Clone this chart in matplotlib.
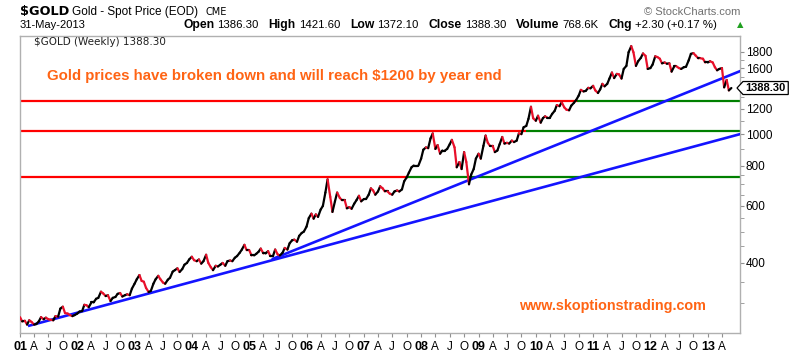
import numpy as np
import pandas as pd
import matplotlib
matplotlib.use("Agg")
import matplotlib.pyplot as plt
import matplotlib.dates as mdates
from matplotlib.collections import LineCollection
from matplotlib.patches import Polygon

# -----------------------------
# DATA (semi-monthly closes)
# -----------------------------
price_2001 = [272, 264, 265, 258, 266, 263, 258, 259, 264, 272, 268, 271,
              268, 267, 266, 274, 273, 289, 293, 280, 279, 276, 274, 276]
price_2002 = [279, 283, 284, 297, 296, 292, 302, 302, 310, 312, 326, 322,
              316, 318, 305, 312, 314, 321, 323, 315, 318, 320, 318, 333]
price_2003 = [345, 356, 367, 352, 350, 335, 325, 328, 345, 356, 365, 356,
              348, 345, 355, 360, 376, 380, 385, 375, 383, 395, 400, 410]
price_2004 = [418, 408, 405, 410, 398, 405, 424, 400, 388, 380, 392, 390,
              395, 400, 392, 405, 407, 405, 415, 420, 430, 440, 455, 438]
price_2005 = [438, 422, 422, 427, 433, 443, 428, 428, 435, 420, 420, 440,
              425, 422, 430, 445, 440, 460, 470, 472, 465, 485, 495, 500]
price_2006 = [518, 550, 568, 548, 565, 555, 585, 600, 660, 725, 640, 575,
              620, 660, 635, 625, 625, 590, 595, 588, 610, 625, 645, 620]
price_2007 = [630, 630, 650, 680, 670, 650, 665, 690, 680, 665, 665, 655,
              650, 665, 670, 665, 675, 715, 735, 760, 790, 800, 800, 800]
price_2008 = [840, 895, 910, 905, 970, 1005, 900, 925, 870, 890, 890, 900,
              930, 960, 910, 790, 820, 780, 880, 820, 700, 750, 780, 840]
price_2009 = [870, 840, 920, 990, 940, 920, 920, 880, 890, 930, 980, 935,
              940, 935, 955, 945, 955, 1005, 1000, 1050, 1060, 1115, 1215, 1120]
price_2010 = [1100, 1140, 1085, 1120, 1135, 1125, 1125, 1155, 1180, 1230, 1220, 1255,
              1210, 1190, 1185, 1225, 1250, 1275, 1315, 1370, 1355, 1360, 1390, 1385]
price_2011 = [1410, 1365, 1340, 1375, 1430, 1405, 1430, 1485, 1550, 1490, 1535, 1530,
              1485, 1590, 1625, 1790, 1870, 1790, 1625, 1680, 1720, 1775, 1745, 1590]
price_2012 = [1600, 1640, 1740, 1730, 1710, 1655, 1665, 1650, 1655, 1560, 1620, 1620,
              1600, 1590, 1610, 1615, 1690, 1770, 1780, 1750, 1715, 1715, 1710, 1665]
price_2013 = [1665, 1680, 1665, 1610, 1575, 1590, 1600, 1395, 1470, 1365, 1388.30]

closes = (price_2001 + price_2002 + price_2003 + price_2004 + price_2005 + price_2006
          + price_2007 + price_2008 + price_2009 + price_2010 + price_2011 + price_2012
          + price_2013)
dates = list(pd.date_range("2001-01-01", "2013-05-15", freq="SMS")) + [pd.Timestamp("2013-05-31")]
last_price = 1388.30

# horizontal support / resistance levels and where price broke through them
level_prices = [1265, 1020, 735]
level_break_dates = ["2010-09-20", "2009-11-01", "2007-10-01"]

# trend lines (start date/price, end date/price)
trend_lower_dates = ["2001-03-01", "2013-07-25"]
trend_lower_prices = [256, 1000]
trend_upper_dates = ["2005-06-01", "2013-07-25"]
trend_upper_prices = [412, 1565]

y_major = [400, 600, 800, 1000, 1200, 1600, 1800]
y_minor = [300, 350, 450, 500, 550, 650, 700, 750, 900, 1100, 1300, 1400, 1500, 1700]

quote_parts = [("Open", True), ("1386.30", False), ("High", True), ("1421.60", False),
               ("Low", True), ("1372.10", False), ("Close", True), ("1388.30", False),
               ("Volume", True), ("768.6K", False), ("Chg", True), ("+2.30 (+0.17 %)", False)]

X_START = pd.Timestamp("2001-01-01")
X_END = pd.Timestamp("2013-07-25")

ORANGE = "#ff6414"

# -----------------------------
# FIGURE
# -----------------------------
W, H = 790, 354
fig = plt.figure(figsize=(W / 100, H / 100), dpi=100)
fig.patch.set_facecolor("white")
ax = fig.add_axes([20 / W, 21 / H, 720 / W, 297 / H])

ax.set_yscale("log")
ax.set_ylim(243, 2010)
ax.set_xlim(X_START, X_END)

# horizontal levels: red before the break, green after
for lvl, brk in zip(level_prices, level_break_dates):
    brk = pd.Timestamp(brk)
    ax.plot([X_START, brk], [lvl, lvl], color="#ff0000", lw=1.6, zorder=2, solid_capstyle="butt")
    ax.plot([brk, X_END], [lvl, lvl], color="#008000", lw=1.6, zorder=2, solid_capstyle="butt")

# trend lines
ax.plot(pd.to_datetime(trend_lower_dates), trend_lower_prices, color="#1414ff", lw=1.9, zorder=3)
ax.plot(pd.to_datetime(trend_upper_dates), trend_upper_prices, color="#1414ff", lw=1.9, zorder=3)

# price line, black for up moves, red for down moves
xd = mdates.date2num(dates)
yv = np.array(closes, dtype=float)
pts = np.column_stack([xd, yv]).reshape(-1, 1, 2)
segs = np.concatenate([pts[:-1], pts[1:]], axis=1)
seg_colors = ["#000000" if b >= a else "#e8102a" for a, b in zip(yv[:-1], yv[1:])]
lc = LineCollection(segs, colors=seg_colors, linewidths=1.6, zorder=4, capstyle="round")
ax.add_collection(lc)

# -----------------------------
# AXES STYLE
# -----------------------------
for side in ["left", "top", "bottom", "right"]:
    ax.spines[side].set_color("#b0b0b0")
    ax.spines[side].set_linewidth(1.0)

ax.yaxis.tick_right()
ax.set_yticks(y_major)
ax.set_yticklabels([str(v) for v in y_major], fontsize=8.5, family="Liberation Sans")
ax.set_yticks(y_minor, minor=True)
ax.yaxis.set_minor_formatter(plt.NullFormatter())
ax.tick_params(axis="y", which="both", colors="#909090", labelcolor="black", length=3, pad=1)

q_ticks = pd.date_range("2001-01-01", "2013-04-01", freq="QS")
month_letter = {4: "A", 7: "J", 10: "O"}
q_labels = [f"{d.year % 100:02d}" if d.month == 1 else month_letter[d.month] for d in q_ticks]
ax.set_xticks(q_ticks)
ax.set_xticklabels(q_labels, fontsize=8.5, family="Liberation Sans")
for lab, d in zip(ax.get_xticklabels(), q_ticks):
    if d.month == 1:
        lab.set_fontweight("bold")
        lab.set_fontsize(9)
ax.tick_params(axis="x", colors="#909090", labelcolor="black", length=3, pad=3)

# -----------------------------
# TEXT
# -----------------------------
def ftext(px, py, s, **kw):
    return fig.text(px / W, 1 - py / H, s, va="center", ha=kw.pop("ha", "left"), **kw)

ftext(20, 11, "$GOLD", fontsize=9.3, fontweight="bold", family="DejaVu Sans")
ftext(72, 12, "Gold - Spot Price (EOD)", fontsize=8.5, family="Liberation Sans")
ftext(205, 12, "CME", fontsize=7, family="DejaVu Sans")
ftext(20, 25, "31-May-2013", fontsize=8, family="Liberation Sans")
ftext(740, 12, "\u00a9 StockCharts.com", fontsize=8, color="#707070",
      family="Liberation Sans", ha="right")

# quote line: lay the pieces out one after another between x=183 and x=735
fig.canvas.draw()
renderer = fig.canvas.get_renderer()
q_texts = [ftext(0, 25, s, fontsize=8.7 if b else 8.2, fontweight="bold" if b else "normal",
                 family="Liberation Sans") for s, b in quote_parts]
widths = [t.get_window_extent(renderer).width for t in q_texts]
gap = (735 - 183 - sum(widths)) / (len(widths) - 1 + 0.6 * (len(widths) // 2))
x = 183
for i, (t, w) in enumerate(zip(q_texts, widths)):
    t.set_x(x / W)
    x += w + (gap * 0.55 if i % 2 == 0 else gap * 1.65)
ftext(737, 25, "\u25b2", fontsize=6, color="#20a020", family="DejaVu Sans")

ftext(34, 42, "$GOLD (Weekly) 1388.30", fontsize=7.5, family="DejaVu Sans", color="#202020")

ftext(47, 76, "Gold prices have broken down and will reach $1200 by year end",
      fontsize=10.8, fontweight="bold", color=ORANGE, family="Liberation Sans")
ftext(612, 306, "www.skoptionstrading.com", fontsize=10.4, fontweight="bold",
      color=ORANGE, family="Liberation Sans", ha="center")

# current price tag (pointed box right of the axis)
_, tag_y = ax.transData.transform((xd[-1], last_price))
tag_x = ax.transAxes.transform((1.0, 0))[0] - 3
tag_text = fig.text((tag_x + 8) / W, tag_y / H, f"{last_price:.2f}", ha="left", va="center",
                    fontsize=8, fontweight="bold", family="Liberation Sans", zorder=7)
tw = tag_text.get_window_extent(renderer).width
tag = Polygon([(tag_x, tag_y), (tag_x + 6, tag_y + 6.5), (tag_x + tw + 11, tag_y + 6.5),
               (tag_x + tw + 11, tag_y - 6.5), (tag_x + 6, tag_y - 6.5)],
              closed=True, transform=None, fc="white", ec="black", lw=0.9, zorder=6)
fig.patches.append(tag)

fig.savefig("out.png", dpi=100)
